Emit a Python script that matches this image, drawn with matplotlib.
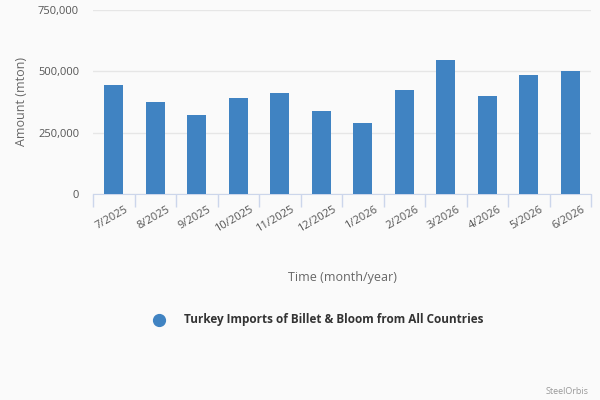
import matplotlib.pyplot as plt
import numpy as np
from matplotlib.ticker import FuncFormatter

plt.rcParams['font.family'] = ['Open Sans', 'DejaVu Sans']

months = ['7/2025', '8/2025', '9/2025', '10/2025', '11/2025', '12/2025',
          '1/2026', '2/2026', '3/2026', '4/2026', '5/2026', '6/2026']
imports = [442000, 373000, 320000, 389000, 409000, 337000,
           288000, 422000, 543000, 397000, 482000, 499000]
yticks = [0, 250000, 500000, 750000]

bg = '#fafafa'
bar_color = '#4083c2'

fig = plt.figure(figsize=(6, 4), dpi=100, facecolor=bg)
ax = fig.add_axes([0.155, 0.515, 0.83, 0.461])
ax.set_facecolor(bg)

x = np.arange(len(months))
ax.bar(x, imports, width=0.46, color=bar_color, zorder=3)

ax.set_xlim(-0.5, len(months) - 0.5)
ax.set_ylim(0, 750000)
ax.set_yticks(yticks)
ax.yaxis.set_major_formatter(FuncFormatter(lambda v, p: f'{int(v):,}'))
ax.grid(axis='y', color='#e6e6e6', linewidth=1, zorder=0)

# rotated labels end a little right of the bar centre, as in the original
ax.set_xticks(x + 0.27)
ax.set_xticklabels(months, rotation=30, ha='right', rotation_mode='anchor',
                   fontsize=8, color='#555555')
ax.set_xticks(np.arange(-0.5, len(months)), minor=True)
ax.tick_params(axis='x', which='major', length=0, pad=7)
ax.tick_params(axis='x', which='minor', length=9, color='#ccd6eb', width=1)
ax.tick_params(axis='y', length=0, labelsize=8, labelcolor='#555555', pad=10)

for s in ['top', 'right', 'left']:
    ax.spines[s].set_visible(False)
ax.spines['bottom'].set_color('#ccd6eb')

ax.set_ylabel('Amount (mton)', fontsize=9, color='#666666', labelpad=7)

fig.text(0.57, 0.307, 'Time (month/year)', fontsize=9, color='#666666',
         ha='center', va='center')

fig.add_artist(plt.Line2D([159 / 600], [1 - 320 / 400], marker='o',
                          markersize=8.5, color=bar_color, linestyle='none',
                          transform=fig.transFigure))
fig.text(184 / 600, 1 - 320 / 400,
         'Turkey Imports of Billet & Bloom from All Countries',
         fontsize=8.5, fontweight='bold', color='#333333', va='center')

fig.text(589 / 600, 1 - 392 / 400, 'SteelOrbis', fontsize=6.5,
         color='#999999', ha='right', va='center')

fig.savefig('out.png', dpi=100, facecolor=bg)
